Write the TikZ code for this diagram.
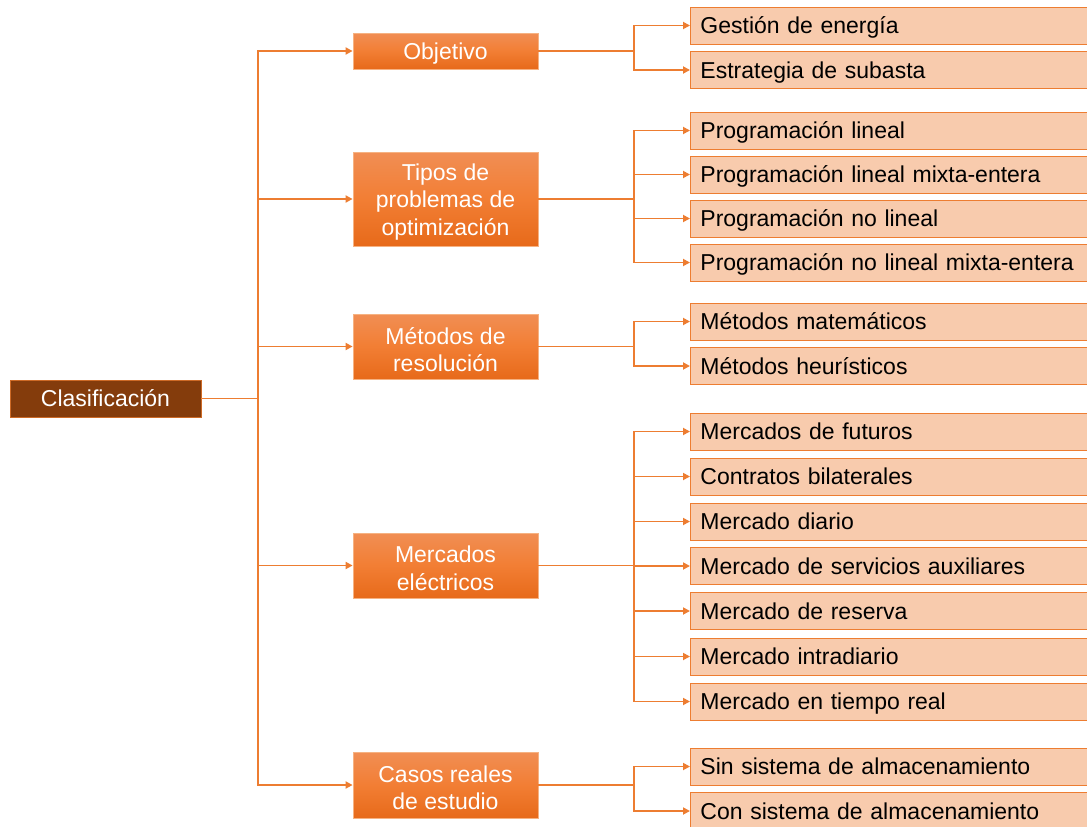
\documentclass[tikz,border=0pt]{standalone}
\usepackage{fontspec}
\setmainfont{Liberation Sans}
\usetikzlibrary{arrows.meta}
\definecolor{org}{RGB}{237,125,49}
\definecolor{leaffill}{RGB}{248,203,173}
\definecolor{brown}{RGB}{132,60,12}
\definecolor{midtop}{RGB}{241,142,84}
\definecolor{midmid}{RGB}{242,126,52}
\definecolor{midbot}{RGB}{231,106,26}
\definecolor{midborder}{RGB}{246,178,130}
\tikzset{
  txt/.style={font=\fontsize{23}{27.5}\selectfont},
  root/.style={txt, fill=brown, draw=org!70!brown, line width=0.8pt, text=white,
    minimum width=191pt, minimum height=37pt, inner sep=0pt},
  midbox/.style={top color=midtop, bottom color=midbot, middle color=midmid,
    draw=midborder, line width=0.8pt, minimum width=185pt, inner sep=0pt},
  midtext/.style={txt, text=white, align=center, inner sep=0pt},
  leaf/.style={txt, fill=leaffill, draw=org, line width=0.9pt, anchor=west,
    minimum width=400pt, minimum height=37pt, text width=380pt, align=left,
    inner xsep=9.5pt, inner ysep=0pt, text depth=0pt},
  line/.style={draw=org, line width=1.8pt},
  arr/.style={line, -{Triangle[length=7pt,width=7pt]}}
}
\begin{document}
\begin{tikzpicture}[x=1pt,y=-1pt]
\useasboundingbox (0,0) rectangle (1087,827);
\fill[white] (0,0) rectangle (1087,827);
% root
\node[root] (clas) at (105.5,398.5) {Clasificación};
% middle boxes
\node[midbox, minimum height=36pt] (obj) at (445.5,51) {};
\node[midbox, minimum height=94pt] (tip) at (445.5,199) {};
\node[midbox, minimum height=65pt] (met) at (445.5,346.5) {};
\node[midbox, minimum height=65pt] (mer) at (445.5,565.5) {};
\node[midbox, minimum height=66pt] (cas) at (445.5,785) {};
\node[midtext] (objt) at ([yshift=-3pt]obj.center) {Objetivo};
\node[midtext] (tipt) at ([yshift=-3pt]tip.center) {Tipos de\\problemas de\\optimización};
\node[midtext] (mett) at ([yshift=-3pt]met.center) {Métodos de\\resolución};
\node[midtext] (mert) at ([yshift=-3pt]mer.center) {Mercados\\eléctricos};
\node[midtext] (cast) at ([yshift=-3pt]cas.center) {Casos reales\\de estudio};
% leaves
\node[leaf] (l1) at (690,25.5) {Gestión de energía};
\node[leaf] (l2) at (690,70) {Estrategia de subasta};
\node[leaf] (l3) at (690,130.5) {Programación lineal};
\node[leaf] (l4) at (690,174.5) {Programación lineal mixta-entera};
\node[leaf] (l5) at (690,218.5) {Programación no lineal};
\node[leaf] (l6) at (690,262.5) {Programación no lineal mixta-entera};
\node[leaf] (l7) at (690,321.5) {Métodos matemáticos};
\node[leaf] (l8) at (690,366) {Métodos heurísticos};
\node[leaf] (l9) at (690,431.5) {Mercados de futuros};
\node[leaf] (l10) at (690,476.5) {Contratos bilaterales};
\node[leaf] (l11) at (690,521.5) {Mercado diario};
\node[leaf] (l12) at (690,566) {Mercado de servicios auxiliares};
\node[leaf] (l13) at (690,611) {Mercado de reserva};
\node[leaf] (l14) at (690,656.5) {Mercado intradiario};
\node[leaf] (l15) at (690,701.5) {Mercado en tiempo real};
\node[leaf] (l16) at (690,766.5) {Sin sistema de almacenamiento};
\node[leaf] (l17) at (690,811) {Con sistema de almacenamiento};
% trunk
\coordinate (tr) at (258,398.5);
\draw[line] (clas.east) -- (tr);
\foreach \m in {obj,tip,met,mer,cas} \draw[arr] (tr) |- (\m.west);
% branches
\coordinate (b1) at (634,51);
\coordinate (b2) at (634,199);
\coordinate (b3) at (634,346.5);
\coordinate (b4) at (634,565.5);
\coordinate (b5) at (634,785);
\draw[line] (obj.east) -- (b1);
\draw[line] (tip.east) -- (b2);
\draw[line] (met.east) -- (b3);
\draw[line] (mer.east) -- (b4);
\draw[line] (cas.east) -- (b5);
\foreach \l in {l1,l2} \draw[arr] (b1) |- (\l.west);
\foreach \l in {l3,l4,l5,l6} \draw[arr] (b2) |- (\l.west);
\foreach \l in {l7,l8} \draw[arr] (b3) |- (\l.west);
\foreach \l in {l9,l10,l11,l12,l13,l14,l15} \draw[arr] (b4) |- (\l.west);
\foreach \l in {l16,l17} \draw[arr] (b5) |- (\l.west);
\end{tikzpicture}
\end{document}
